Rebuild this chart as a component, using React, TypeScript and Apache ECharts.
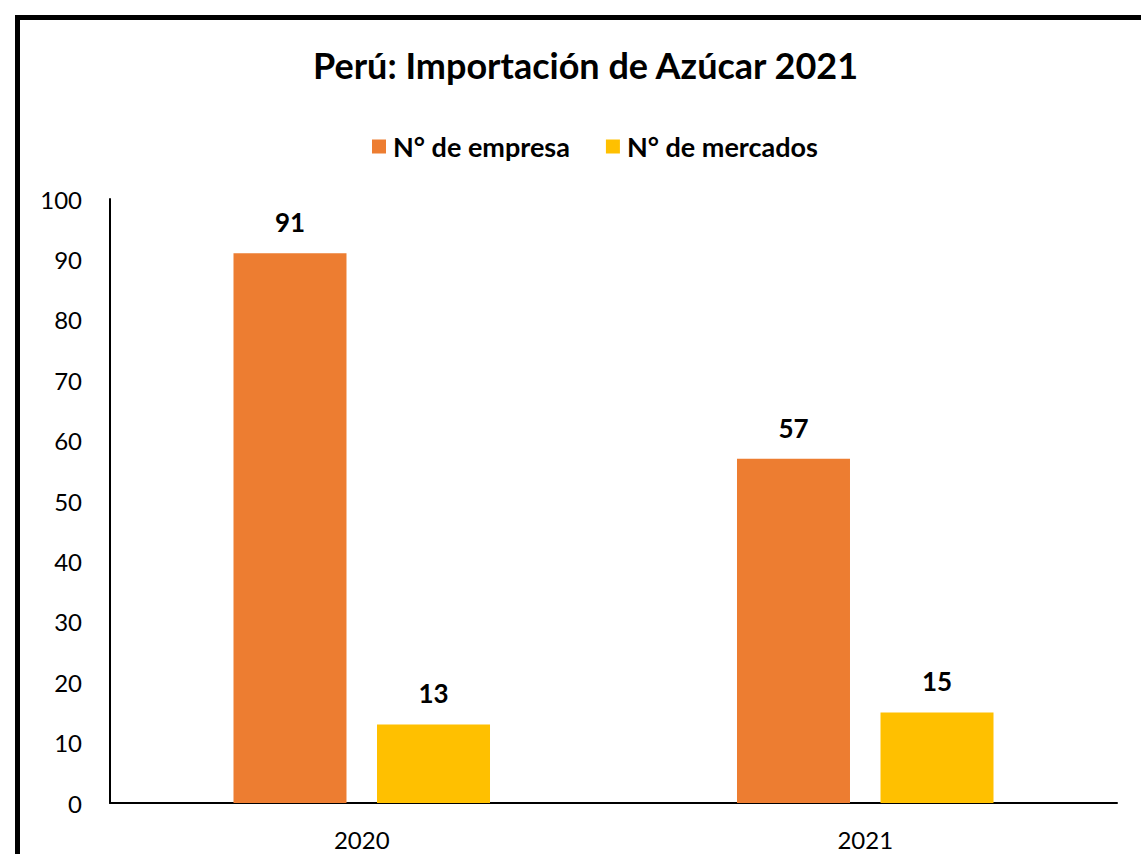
import React, { useEffect, useRef } from "react";
import * as echarts from "echarts";

const categories = ["2020", "2021"];
const empresas = [91, 57];
const mercados = [13, 15];
const seriesNames = ["N° de empresa", "N° de mercados"];
const title = "Perú: Importación de Azúcar 2021";

const FONT = "Lato, 'Liberation Sans', sans-serif";

export default function App() {
  const ref = useRef<HTMLDivElement>(null);
  useEffect(() => {
    if (!ref.current) return;
    const chart = echarts.init(ref.current, null, { renderer: "svg" });
    const labelStyle = {
      show: true,
      position: "top",
      distance: 18,
      fontFamily: FONT,
      fontWeight: "bold",
      fontSize: 26,
      color: "#000",
    };
    chart.setOption({
      animation: false,
      backgroundColor: "#fff",
      textStyle: { fontFamily: FONT },
      title: {
        text: title,
        left: 308,
        top: 42,
        textStyle: { fontFamily: FONT, fontWeight: "bold", fontSize: 36, color: "#000" },
      },
      legend: {
        top: 128,
        left: 367,
        itemWidth: 14,
        itemHeight: 14,
        itemGap: 36,
        icon: "rect",
        textStyle: { fontFamily: FONT, fontWeight: "bold", fontSize: 27, color: "#000", padding: [0, 0, 0, 2] },
        data: seriesNames,
      },
      grid: { left: 110, right: 24, top: 199, bottom: 51, containLabel: false },
      xAxis: {
        type: "category",
        data: categories,
        axisLine: { lineStyle: { color: "#000", width: 2 } },
        axisTick: { show: false },
        axisLabel: { color: "#000", fontSize: 24, fontFamily: FONT, margin: 24 },
      },
      yAxis: {
        type: "value",
        min: 0,
        max: 100,
        interval: 10,
        axisLine: { show: true, lineStyle: { color: "#000", width: 2 } },
        axisTick: { show: false },
        splitLine: { show: false },
        axisLabel: { color: "#000", fontSize: 24, fontFamily: FONT, margin: 28 },
      },
      graphic: [
        {
          type: "rect",
          shape: { x: 17.5, y: 17.5, width: 2000, height: 2000 },
          style: { fill: "none", stroke: "#000", lineWidth: 5 },
          silent: true,
        },
      ],
      series: [
        {
          name: seriesNames[0],
          type: "bar",
          data: empresas,
          barWidth: 113,
          barGap: "27%",
          itemStyle: { color: "#ED7D31" },
          label: labelStyle,
        },
        {
          name: seriesNames[1],
          type: "bar",
          data: mercados,
          barWidth: 113,
          barGap: "27%",
          itemStyle: { color: "#FFC000" },
          label: labelStyle,
        },
      ],
    });
    return () => chart.dispose();
  }, []);
  return (
    <div
      ref={ref}
      style={{ position: "fixed", left: 0, top: 0, width: 1141, height: 854 }}
    />
  );
}
